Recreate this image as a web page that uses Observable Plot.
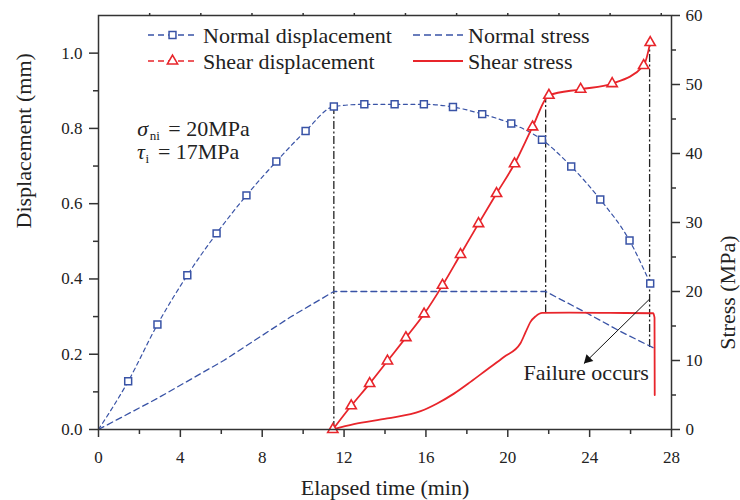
<!DOCTYPE html>
<html><head><meta charset="utf-8">
<script src="https://cdn.jsdelivr.net/npm/d3@7"></script>
<script src="https://cdn.jsdelivr.net/npm/@observablehq/plot@0.6"></script>
<style>body{margin:0;background:#fff}</style>
</head><body><div id="chart"></div>
<script>
// ---- data ----
const normalDispTime = [0, 1.45, 2.88, 4.34, 5.77, 7.23, 8.69, 10.12, 11.5, 12.99, 14.47, 15.9, 17.32, 18.75, 20.17, 21.67, 23.1, 24.52, 25.95, 26.96];
const normalDisp     = [0, 0.128, 0.279, 0.410, 0.521, 0.622, 0.712, 0.793, 0.858, 0.864, 0.864, 0.864, 0.857, 0.838, 0.813, 0.770, 0.699, 0.611, 0.502, 0.388];

const shearDispTime = [11.45, 12.35, 13.25, 14.12, 15.02, 15.91, 16.81, 17.69, 18.57, 19.45, 20.33, 21.21, 22.01, 23.56, 25.1, 26.64, 26.96];
const shearDisp     = [0, 0.063, 0.122, 0.182, 0.244, 0.307, 0.383, 0.465, 0.547, 0.627, 0.706, 0.804, 0.888, 0.904, 0.919, 0.967, 1.028];

const normalStressTime = [0, 2.87, 6.12, 9.38, 11.5, 21.85, 23.88, 25.51, 27.14];
const normalStress     = [0, 4.5, 10.0, 16.3, 20, 20, 16.85, 14.2, 11.8];

const shearStressTime = [11.45, 12.48, 14.11, 15.74, 16.55, 17.37, 18.18, 18.99, 19.81, 20.62, 20.87, 21.11, 21.36, 21.68, 23.0, 25.0, 27.1, 27.17, 27.18];
const shearStress     = [0, 0.77, 1.6, 2.65, 3.77, 5.2, 6.9, 8.7, 10.5, 12.5, 14.1, 15.6, 16.4, 16.9, 16.95, 16.9, 16.85, 16.2, 5.0];

// guide lines (dash-dot): time, lower end (MPa), upper end (mm)
const guideTime       = [11.5, 21.85, 26.93];
const guideFromStress = [0, 16.9, 11.9];
const guideToDisp     = [0.858, 0.888, 1.028];

// tick labels
const xTicks = [0, 4, 8, 12, 16, 20, 24, 28];
const xMinorTicks = [2, 6, 10, 14, 18, 22, 26];
const xTopTicks = [2.5, 5, 7.5, 10, 12.5, 15, 17.5, 20, 22.5, 25, 27.5];
const dispTicks = [0, 0.2, 0.4, 0.6, 0.8, 1.0];
const dispMinorTicks = [0.1, 0.3, 0.5, 0.7, 0.9];
const stressTicks = [0, 10, 20, 30, 40, 50, 60];
const stressMinorTicks = [5, 15, 25, 35, 45, 55];

// annotations
const failureArrow = [{x1: 26.9, y1: 0.345, x2: 23.72, y2: 0.175}];
const failureLabel = [{t: 23.83, d: 0.149, text: "Failure occurs"}];

const legendNames = ["Normal displacement", "Shear displacement", "Normal stress", "Shear stress"];

// ---- build ----
const K = 1.1 / 60; // MPa -> mm axis
const blue = "#3953a6", red = "#e8252b", ink = "#222";
const nd = normalDispTime.map((t, i) => ({t, v: normalDisp[i]}));
const sd = shearDispTime.map((t, i) => ({t, v: shearDisp[i]}));
const ns = normalStressTime.map((t, i) => ({t, v: normalStress[i] * K}));
const ss = shearStressTime.map((t, i) => ({t, v: shearStress[i] * K}));
const guides = guideTime.map((t, i) => ({t, y1: guideFromStress[i] * K, y2: guideToDisp[i]}));

const axisStyle = {stroke: "#333", strokeWidth: 1.5, label: null};
const font = "'Liberation Serif', 'Times New Roman', serif";

const plot = Plot.plot({
  width: 740, height: 500,
  marginLeft: 98, marginRight: 69, marginTop: 15, marginBottom: 71,
  x: {domain: [0, 28]},
  y: {domain: [0, 1.1]},
  style: {fontFamily: font, fontSize: "17px", color: ink, background: "#fff"},
  marks: [
    // guides
    Plot.ruleX(guides, {x: "t", y1: "y1", y2: "y2", stroke: ink, strokeWidth: 1.3, strokeDasharray: "8,2.5,2,2.5"}),
    // normal stress
    Plot.line(ns, {x: "t", y: "v", stroke: blue, strokeWidth: 1.3, strokeDasharray: "6,4"}),
    // normal displacement
    Plot.line(nd, {x: "t", y: "v", stroke: blue, strokeWidth: 1.2, strokeDasharray: "4,3.5", curve: "monotone-x"}),
    Plot.dot(nd.slice(1), {x: "t", y: "v", symbol: "square", r: 3.9, stroke: blue, strokeWidth: 1.5, fill: "#fff"}),
    // shear stress
    Plot.line(ss, {x: "t", y: "v", stroke: red, strokeWidth: 1.8, curve: "monotone-x"}),
    // shear displacement
    Plot.line(sd, {x: "t", y: "v", stroke: red, strokeWidth: 1.8, curve: "monotone-x"}),
    Plot.dot(sd, {x: "t", y: "v", symbol: "triangle", r: 3.8, stroke: red, strokeWidth: 1.6, fill: "#fff"}),
    // failure annotation: line + filled head
    Plot.link(failureArrow, {x1: "x1", y1: "y1", x2: "x2", y2: "y2", stroke: "#111", strokeWidth: 1}),
    Plot.dot(failureArrow, {x: "x2", y: "y2", symbol: "triangle", r: 3.6, fill: "#111", stroke: "none", rotate: 225, dx: 4, dy: -4}),
    Plot.text(failureLabel, {x: "t", y: "d", text: "text", fontSize: 22, textAnchor: "middle", lineAnchor: "middle", fill: ink}),
    // frame + axes
    Plot.frame({stroke: "#333", strokeWidth: 1.5}),
    Plot.axisX(xTicks, {...axisStyle, tickSize: 8, tickPadding: 13}),
    Plot.axisX(xMinorTicks, {...axisStyle, tickSize: 5, text: null}),
    Plot.axisX(xTopTicks, {...axisStyle, anchor: "top", tickSize: 3, text: null}),
    Plot.axisY(dispTicks, {...axisStyle, tickSize: 9, tickPadding: 7, tickFormat: d3.format(".1f")}),
    Plot.axisY(dispMinorTicks, {...axisStyle, tickSize: 5, text: null}),
    Plot.axisY(stressTicks.map(s => s * K), {...axisStyle, anchor: "right", tickSize: 8, tickPadding: 6, tickFormat: d => Math.round(d / K)}),
    Plot.axisY(stressMinorTicks.map(s => s * K), {...axisStyle, anchor: "right", tickSize: 4, text: null}),
    // axis titles
    Plot.text(["Elapsed time (min)"], {frameAnchor: "bottom", dy: 58, lineAnchor: "middle", fontSize: 22, fill: ink}),
    Plot.text(["Displacement (mm)"], {frameAnchor: "left", rotate: -90, dx: -75, dy: 6, lineAnchor: "middle", fontSize: 22, fill: ink}),
    Plot.text(["Stress (MPa)"], {frameAnchor: "right", rotate: -90, dx: 56, dy: 13, lineAnchor: "middle", fontSize: 22, fill: ink})
  ]
});
document.getElementById("chart").append(plot);

// ---- in-plot legend & condition labels ----
const svg = d3.select(plot);
const xs = plot.scale("x"), ys = plot.scale("y");
const lg = svg.append("g").attr("font-family", font).attr("font-size", 22).attr("fill", ink).attr("text-anchor", "start");
const rows = [35, 61];
const cols = [{x0: 148, x1: 197, tx: 203}, {x0: 413, x1: 463, tx: 468}];
const legendItems = [
  {col: 0, row: 0, color: blue, dash: "6,4", sym: d3.symbolSquare, size: 15.2 * 3.14, sw: 1.5},
  {col: 0, row: 1, color: red, dash: "6,4", sym: d3.symbolTriangle, size: 14.4 * 3.14, sw: 1.6},
  {col: 1, row: 0, color: blue, dash: "7,4", sym: null, sw: 1.3},
  {col: 1, row: 1, color: red, dash: null, sym: null, sw: 1.8}
];
legendItems.forEach((it, i) => {
  const c = cols[it.col], y = rows[it.row];
  lg.append("line").attr("x1", c.x0).attr("x2", c.x1).attr("y1", y).attr("y2", y)
    .attr("stroke", it.color).attr("stroke-width", it.sw).attr("stroke-dasharray", it.dash);
  if (it.sym) {
    lg.append("path").attr("d", d3.symbol(it.sym, it.size)())
      .attr("transform", `translate(${(c.x0 + c.x1) / 2},${y})`)
      .attr("fill", "#fff").attr("stroke", it.color).attr("stroke-width", it.sw);
  }
  lg.append("text").attr("x", c.tx).attr("y", y + 8).text(legendNames[i]);
});

// condition labels (positioned in data coordinates)
const cond = [
  {t: 1.92, d: 0.779, sym: "σ", sub: "ni", rest: "= 20MPa", subDx: 12.5, restDx: 31},
  {t: 1.9, d: 0.717, sym: "τ", sub: "i", rest: "= 17MPa", subDx: 8.5, restDx: 21}
];
cond.forEach(c => {
  const px = xs.apply(c.t), py = ys.apply(c.d);
  const t = lg.append("text").attr("y", py);
  t.append("tspan").attr("x", px).attr("font-style", "italic").text(c.sym);
  t.append("tspan").attr("x", px + c.subDx).attr("dy", 4).attr("font-size", 13).text(c.sub);
  t.append("tspan").attr("x", px + c.restDx).attr("dy", -4).text(c.rest);
});
</script></body></html>
